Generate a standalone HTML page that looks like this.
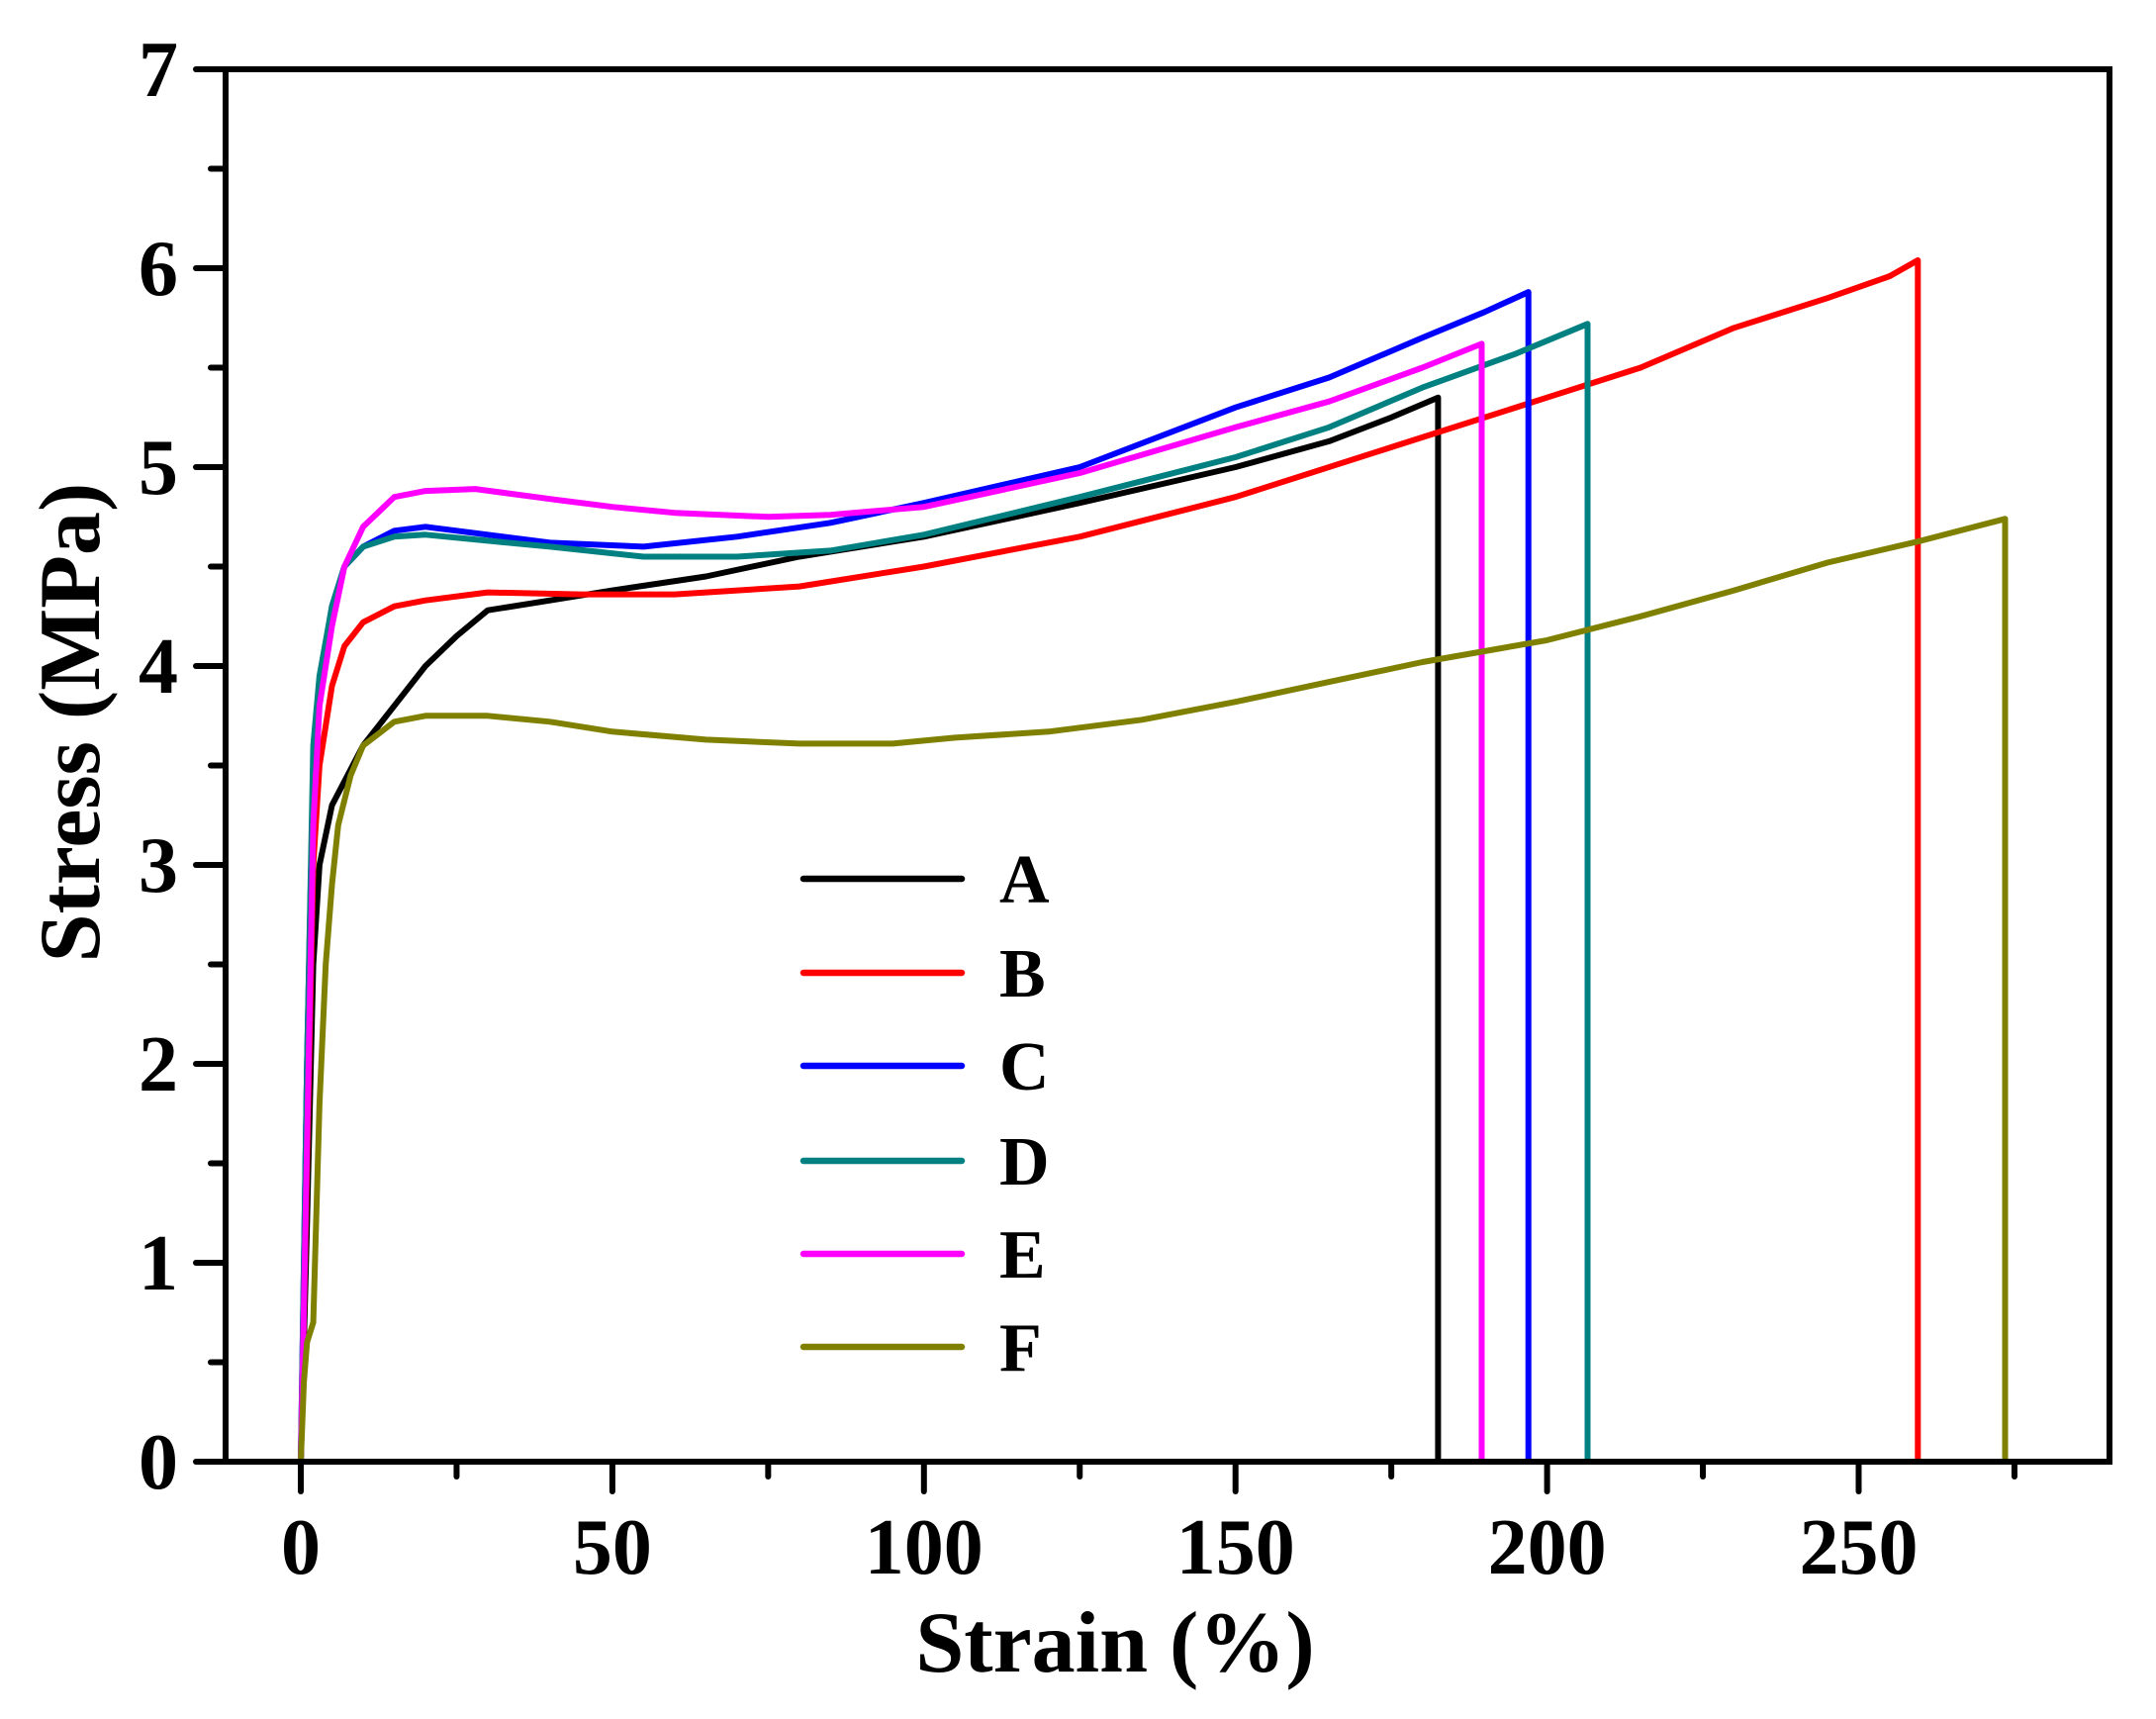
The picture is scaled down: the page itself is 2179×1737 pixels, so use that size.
<!DOCTYPE html>
<html><head><meta charset="utf-8"><style>
html,body{margin:0;padding:0;background:#fff;}
svg{display:block;}
text{font-family:"Liberation Serif",serif;font-weight:bold;fill:#000;}
</style></head><body>
<svg id="s" width="2179" height="1737" viewBox="0 0 2179 1737" xmlns="http://www.w3.org/2000/svg">
<rect width="2179" height="1737" fill="#fff"/>
<g id="curves" fill="none" stroke-width="6" stroke-linejoin="round"></g>
<rect x="228" y="70" width="1904" height="1407" fill="none" stroke="#000" stroke-width="6"/>
<g id="ticks" stroke="#000" stroke-width="6" stroke-linecap="round"></g>
<g id="labels" font-size="80"></g>
<g font-size="70">
<line x1="812" y1="888" x2="972" y2="888" stroke="#000" stroke-width="6.5" stroke-linecap="round"/>
<line x1="812" y1="983" x2="972" y2="983" stroke="#ff0000" stroke-width="6.5" stroke-linecap="round"/>
<line x1="812" y1="1077" x2="972" y2="1077" stroke="#0000ff" stroke-width="6.5" stroke-linecap="round"/>
<line x1="812" y1="1173" x2="972" y2="1173" stroke="#008080" stroke-width="6.5" stroke-linecap="round"/>
<line x1="812" y1="1267" x2="972" y2="1267" stroke="#ff00ff" stroke-width="6.5" stroke-linecap="round"/>
<line x1="812" y1="1361" x2="972" y2="1361" stroke="#808000" stroke-width="6.5" stroke-linecap="round"/>
<text x="1010" y="912">A</text>
<text x="1010" y="1007">B</text>
<text x="1010" y="1101">C</text>
<text x="1010" y="1197">D</text>
<text x="1010" y="1291">E</text>
<text x="1010" y="1385">F</text>
</g>
<text x="1127" y="1689" font-size="88" text-anchor="middle">Strain (%)</text>
<text transform="translate(100,730) rotate(-90)" font-size="88" text-anchor="middle">Stress (MPa)</text>
</svg>
<script>
var X=function(v){return 304+v*6.298;},Y=function(v){return 1477-v*201;};
var ns="http://www.w3.org/2000/svg";
var series=[
["#000000",[[0,0],[1,1.2],[2,2.5],[3,3.0],[5,3.3],[10,3.6],[15,3.8],[20,4.0],[25,4.15],[30,4.28],[40,4.33],[50,4.38],[65,4.45],[80,4.55],[100,4.65],[125,4.82],[150,5.0],[165,5.13],[175,5.25],[182.5,5.35],[182.5,0]]],
["#ff0000",[[0,0],[1,1.5],[2,3.0],[3,3.5],[5,3.9],[7,4.1],[10,4.22],[15,4.3],[20,4.33],[30,4.37],[45,4.36],[60,4.36],[80,4.4],[100,4.5],[125,4.65],[150,4.85],[175,5.1],[200,5.35],[215,5.5],[230,5.7],[245,5.85],[255,5.96],[259.5,6.04],[259.5,0]]],
["#0000ff",[[0,0],[1,2.0],[2,3.5],[3,3.9],[5,4.3],[7,4.5],[10,4.6],[15,4.68],[20,4.7],[30,4.66],[40,4.62],[55,4.6],[70,4.65],[85,4.72],[100,4.82],[125,5.0],[150,5.3],[165,5.45],[180,5.65],[190,5.78],[197,5.88],[197,0]]],
["#008080",[[0,0],[1,2.0],[2,3.6],[3,3.95],[5,4.3],[7,4.5],[10,4.6],[15,4.65],[20,4.66],[30,4.63],[40,4.6],[55,4.55],[70,4.55],[85,4.58],[100,4.66],[125,4.85],[150,5.05],[165,5.2],[180,5.4],[195,5.57],[206.5,5.72],[206.5,0]]],
["#ff00ff",[[0,0],[1,1.6],[2,3.2],[3,3.8],[5,4.2],[7,4.5],[10,4.7],[15,4.85],[20,4.88],[28,4.89],[40,4.84],[50,4.8],[60,4.77],[75,4.75],[85,4.76],[100,4.8],[125,4.97],[150,5.2],[165,5.33],[180,5.5],[189.5,5.62],[189.5,0]]],
["#808000",[[0,0],[0.5,0.4],[1,0.6],[2,0.7],[3,1.8],[4,2.5],[5,2.9],[6,3.2],[8,3.45],[10,3.6],[15,3.72],[20,3.75],[30,3.75],[40,3.72],[50,3.67],[65,3.63],[80,3.61],[95,3.61],[105,3.64],[120,3.67],[135,3.73],[150,3.82],[165,3.92],[180,4.02],[200,4.13],[215,4.25],[230,4.38],[245,4.52],[260,4.63],[273.5,4.74],[273.5,3.8],[273.5,0]]]
];
var g=document.getElementById("curves");
series.forEach(function(s){var p=document.createElementNS(ns,"polyline");
p.setAttribute("points",s[1].map(function(q){return X(q[0]).toFixed(1)+","+Y(q[1]).toFixed(1);}).join(" "));
p.setAttribute("stroke",s[0]);g.appendChild(p);});
var t=document.getElementById("ticks"),L=document.getElementById("labels");
function ln(a,b,c,d){var l=document.createElementNS(ns,"line");l.setAttribute("x1",a);l.setAttribute("y1",b);l.setAttribute("x2",c);l.setAttribute("y2",d);t.appendChild(l);}
function tx(x,y,s,a){var e=document.createElementNS(ns,"text");e.setAttribute("x",x);e.setAttribute("y",y);e.setAttribute("text-anchor",a);e.textContent=s;L.appendChild(e);}
for(var i=0;i<=7;i++){ln(198,Y(i),228,Y(i));tx(180,Y(i)+27,""+i,"end");if(i<7)ln(213,Y(i+0.5),228,Y(i+0.5));}
for(var v=0;v<=250;v+=50){ln(X(v),1477,X(v),1507);tx(X(v),1590,""+v,"middle");ln(X(v+25),1477,X(v+25),1492);}
</script>
</body></html>
